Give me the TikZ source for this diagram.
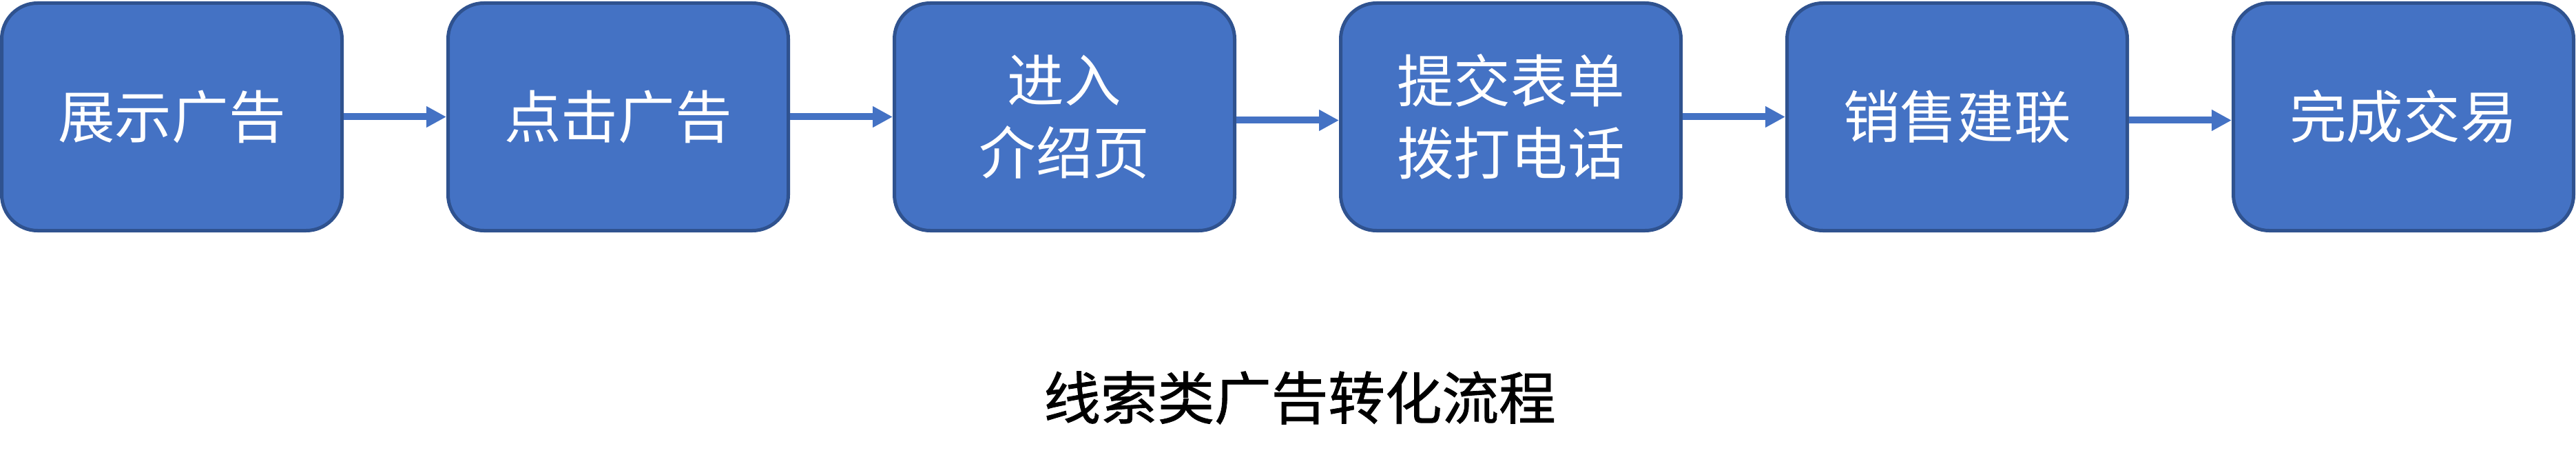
\documentclass[tikz,border=0pt]{standalone}
\usepackage{fontspec}
\setmainfont{Noto Sans CJK SC}
\newfontfamily\captionfont[FakeBold=1]{Noto Sans CJK SC}
\usepackage{xcolor}
\usepackage{tikz}
\usetikzlibrary{arrows.meta,positioning}
\definecolor{stepblue}{HTML}{4472C4}
\definecolor{stepedge}{HTML}{2F528F}

\begin{document}
\begin{tikzpicture}[
    font=\fontsize{23.5pt}{30pt}\selectfont,
    stepbox/.style={rectangle, draw=stepedge, fill=stepblue, line width=0.05cm, rounded corners=0.52cm,
        minimum width=4.94cm, minimum height=3.30cm, align=center, text=white},
    flow/.style={-{Triangle[length=0.29cm, width=0.29cm]}, draw=stepblue, line width=0.1cm},
    node distance=1.49cm
]
    \useasboundingbox (0,0) rectangle (37.4,-6.73);

    % Steps of the funnel
    \node[stepbox, anchor=west] (show) at (0,-1.695) {展示广告};
    \node[stepbox, right=of show] (click) {点击广告};
    \node[stepbox, right=of click] (landing) {进入\\介绍页};
    \node[stepbox, right=of landing] (submit) {提交表单\\拨打电话};
    \node[stepbox, right=of submit] (sales) {销售建联};
    \node[stepbox, right=of sales] (deal) {完成交易};

    % Arrows
    \draw[flow] (show.east) -- (click.west);
    \draw[flow] (click.east) -- (landing.west);
    \draw[flow] ([yshift=-0.05cm]landing.east) -- ([yshift=-0.05cm]submit.west);
    \draw[flow] (submit.east) -- (sales.west);
    \draw[flow] ([yshift=-0.05cm]sales.east) -- ([yshift=-0.05cm]deal.west);

    % Caption
    \node[font=\fontsize{23.5pt}{30pt}\selectfont\captionfont] (caption) at (18.87,-5.77) {线索类广告转化流程};

\end{tikzpicture}
\end{document}
